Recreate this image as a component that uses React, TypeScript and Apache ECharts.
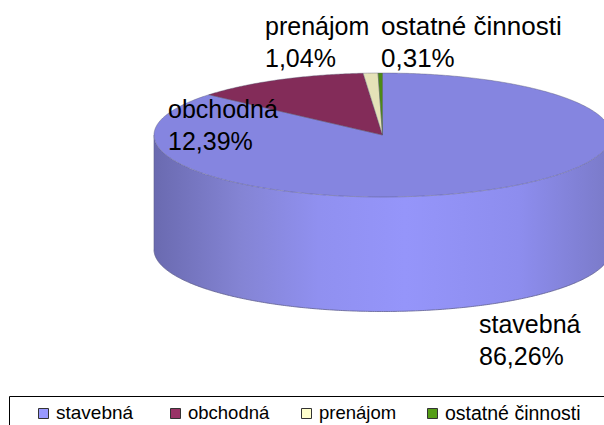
import React, { useEffect, useRef } from "react";
import * as echarts from "echarts";

const categories = ["stavebná", "obchodná", "prenájom", "ostatné činnosti"];
const values = [86.26, 12.39, 1.04, 0.31];
const valueLabels = ["86,26%", "12,39%", "1,04%", "0,31%"];
const topColors = ["#8585E0", "#832C59", "#E5E2B8", "#4C8A15"];
const legendColors = ["#9999FF", "#993366", "#FFFFCC", "#559D17"];
const labelAnchors = [[479, 308], [168, 93], [265, 10], [381, 10]];
const labelSizes = [25, 25, 25, 26];
const legendX = [38, 170, 301, 427];
const legendSizes = [19, 18.5, 18.5, 19.5];

const CX = 382.5, CY = 135, RX = 228.5, RY = 62, DEPTH = 114.5;

function App() {
  const ref = useRef<HTMLDivElement>(null);
  useEffect(() => {
    const chart = echarts.init(ref.current!, null, { renderer: "svg" });
    const total = values.reduce((a, b) => a + b, 0);
    const pt = (a: number, dy = 0) => [CX + RX * Math.sin(a), CY - RY * Math.cos(a) + dy];

    // slice angles, clockwise from 12 o'clock
    const slices: { start: number; end: number }[] = [];
    let acc = 0;
    values.forEach((v) => {
      const start = (acc / total) * Math.PI * 2;
      acc += v;
      slices.push({ start, end: (acc / total) * Math.PI * 2 });
    });

    const arcPoints = (s: number, e: number, dy = 0) => {
      const n = Math.max(2, Math.ceil((e - s) / 0.01));
      const out: number[][] = [];
      for (let i = 0; i <= n; i++) out.push(pt(s + ((e - s) * i) / n, dy));
      return out;
    };

    const renderItem = (params: any, api: any) => {
      const i = api.value(0);
      const s = slices[i];
      const children: any[] = [];
      // visible side wall: the front half, from 90deg to 270deg
      const ws = Math.max(s.start, Math.PI / 2);
      const we = Math.min(s.end, (Math.PI * 3) / 2);
      if (we > ws) {
        const poly = [...arcPoints(ws, we, 0), ...arcPoints(ws, we, DEPTH).reverse()];
        children.push({
          type: "polygon",
          shape: { points: poly },
          style: {
            fill: new echarts.graphic.LinearGradient(0, 0, 1, 0, [
              { offset: 0, color: "#6A6AB0" },
              { offset: 0.19, color: "#8484D4" },
              { offset: 0.36, color: "#9090F0" },
              { offset: 0.55, color: "#9595FA" },
              { offset: 0.8, color: "#8D8DEE" },
              { offset: 1, color: "#7A7AC8" },
            ]),
            stroke: "none",
          },
        });
        children.push({
          type: "polyline",
          shape: { points: arcPoints(ws, we, DEPTH) },
          style: { stroke: "#5F5F8F", lineWidth: 0.8, fill: "none" },
        });
        children.push({
          type: "polyline",
          shape: { points: [pt(Math.PI * 1.5), pt(Math.PI * 1.5, DEPTH)] },
          style: { stroke: "#5F5F8F", lineWidth: 0.6, fill: "none" },
        });
      }
      const top = [[CX, CY], ...arcPoints(s.start, s.end)];
      children.push({
        type: "polygon",
        shape: { points: top },
        style: { fill: topColors[i], stroke: "#55556F", lineWidth: 0.4 },
      });
      return { type: "group", children };
    };

    chart.setOption({
      animation: false,
      backgroundColor: "#ffffff",
      series: [
        {
          type: "custom",
          coordinateSystem: "none",
          renderItem,
          data: values.map((v, i) => [i, v]),
          silent: true,
        },
      ],
      graphic: [
        ...categories.map((c, i) => ({
          type: "text",
          x: labelAnchors[i][0],
          y: labelAnchors[i][1],
          z: 10,
          style: {
            text: `${c}\n${valueLabels[i]}`,
            fontFamily: "Liberation Sans",
            fontSize: labelSizes[i],
            lineHeight: 32,
            fill: "#000000",
          },
        })),
        {
          type: "polyline",
          z: 10,
          shape: { points: [[9.5, 425], [9.5, 396.5], [604, 396.5]] },
          style: { stroke: "#000000", lineWidth: 1, fill: "none" },
        },
        ...categories.flatMap((c, i) => [
          {
            type: "rect",
            z: 10,
            shape: { x: legendX[i] + 0.5, y: 408.5, width: 10, height: 10 },
            style: { fill: legendColors[i], stroke: "#333333", lineWidth: 1 },
          },
          {
            type: "text",
            z: 10,
            x: legendX[i] + 18,
            y: 403,
            style: { text: c, fontFamily: "Liberation Sans", fontSize: legendSizes[i], fill: "#000000" },
          },
        ]),
      ],
    });
    return () => chart.dispose();
  }, []);
  return <div ref={ref} style={{ position: "fixed", left: 0, top: 0, width: 604, height: 425 }} />;
}

export default App;
